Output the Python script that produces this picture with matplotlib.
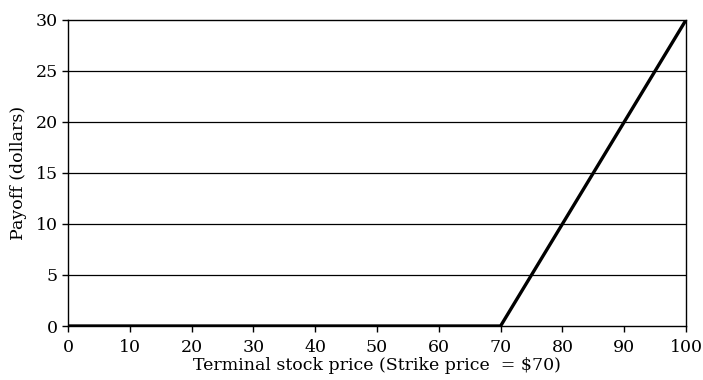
import matplotlib
matplotlib.use('Agg')
import matplotlib.pyplot as plt

# stock price at expiry and the call payoff
prices = [0, 70, 100]
payoff = [0, 0, 30]
xticks = [0, 10, 20, 30, 40, 50, 60, 70, 80, 90, 100]
yticks = [0, 5, 10, 15, 20, 25, 30]

plt.rcParams['font.family'] = 'DejaVu Serif'
plt.rcParams['font.size'] = 12.5

fig = plt.figure(figsize=(7.03, 3.80), dpi=100)
ax = fig.add_axes([0.0967, 0.1421, 0.8791, 0.8053])

for y in yticks[1:-1]:
    ax.axhline(y, color='black', lw=0.9, zorder=1)

ax.plot(prices, payoff, color='black', lw=2.4, solid_capstyle='butt', zorder=3)

ax.set_xlim(0, 100)
ax.set_ylim(0, 30)
ax.set_xticks(xticks)
ax.set_yticks(yticks)
ax.tick_params(direction='out', length=4.3, width=1, colors='black')
ax.tick_params(axis='x', pad=5)
ax.tick_params(axis='y', pad=3)
for s in ax.spines.values():
    s.set_linewidth(1)

ax.set_xlabel('Terminal stock price (Strike price  = \\$70)', labelpad=1)
ax.set_ylabel('Payoff (dollars)', labelpad=6)

fig.savefig('out.png', dpi=100)
